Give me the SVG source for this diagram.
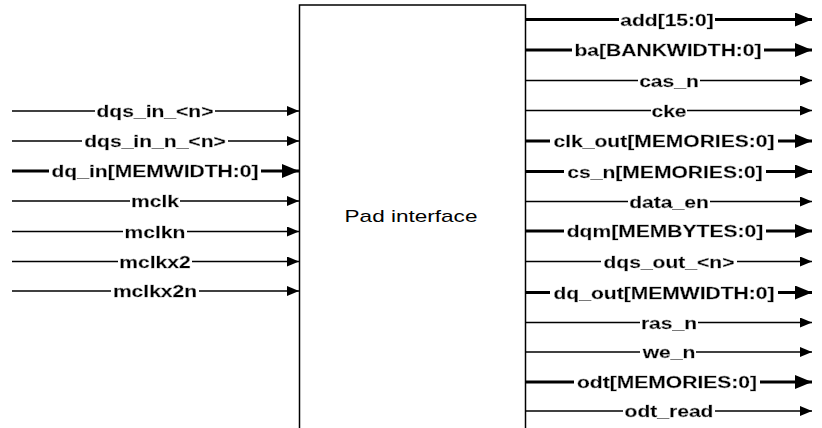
<svg xmlns="http://www.w3.org/2000/svg" width="822" height="428" viewBox="0 0 822 428">
  <defs>
    <style>
      .wire { stroke: #000; fill: none; }
      .thin { stroke-width: 1.3; }
      .bus { stroke-width: 3.2; }
      .lbl { font-family: "Liberation Sans", Arial, sans-serif; font-weight: bold; font-size: 17px; text-anchor: middle; fill: #000; stroke: #000; stroke-width: 0.35; filter: url(#knockout); }
      .title { font-family: "Liberation Sans", Arial, sans-serif; font-size: 16px; text-anchor: middle; fill: #000; }
    </style>
    <!-- white backing box behind each signal name so the wire stops at the text -->
    <filter id="knockout" x="-0.012" y="0" width="1.024" height="1">
      <feFlood flood-color="#fff"/>
      <feComposite in="SourceGraphic"/>
    </filter>
    <marker id="ah" markerUnits="userSpaceOnUse" markerWidth="14" markerHeight="12" refX="12" refY="5" orient="auto">
      <path d="M0,0 L12,5 L0,10 Z" fill="#000"/>
    </marker>
    <marker id="ahb" markerUnits="userSpaceOnUse" markerWidth="18" markerHeight="16" refX="17" refY="7" orient="auto">
      <path d="M0,0 L17,7 L0,14 Z" fill="#000"/>
    </marker>
  </defs>

  <rect width="822" height="428" fill="#fff"/>

  <!-- main block -->
  <g id="pad_interface">
    <rect x="299.5" y="5" width="226" height="440" fill="#fff" stroke="#000" stroke-width="1.5"/>
    <text class="title" transform="matrix(1.41,0,0,1,411,222)">Pad interface</text>
  </g>

  <!-- connectors -->
  <g id="connectors">
    <!-- inputs -->
    <line class="wire thin" x1="12" y1="111" x2="299" y2="111" marker-end="url(#ah)"/>
    <line class="wire thin" x1="12" y1="141" x2="299" y2="141" marker-end="url(#ah)"/>
    <line class="wire bus" x1="12" y1="171" x2="299" y2="171" marker-end="url(#ahb)"/>
    <line class="wire thin" x1="12" y1="201" x2="299" y2="201" marker-end="url(#ah)"/>
    <line class="wire thin" x1="12" y1="231.5" x2="299" y2="231.5" marker-end="url(#ah)"/>
    <line class="wire thin" x1="12" y1="261.5" x2="299" y2="261.5" marker-end="url(#ah)"/>
    <line class="wire thin" x1="12" y1="291" x2="299" y2="291" marker-end="url(#ah)"/>
    <!-- outputs -->
    <line class="wire bus" x1="526" y1="19.5" x2="812" y2="19.5" marker-end="url(#ahb)"/>
    <line class="wire bus" x1="526" y1="50" x2="812" y2="50" marker-end="url(#ahb)"/>
    <line class="wire thin" x1="526" y1="80.5" x2="812" y2="80.5" marker-end="url(#ah)"/>
    <line class="wire thin" x1="526" y1="110.5" x2="812" y2="110.5" marker-end="url(#ah)"/>
    <line class="wire bus" x1="526" y1="141" x2="812" y2="141" marker-end="url(#ahb)"/>
    <line class="wire bus" x1="526" y1="171.5" x2="812" y2="171.5" marker-end="url(#ahb)"/>
    <line class="wire thin" x1="526" y1="201.5" x2="812" y2="201.5" marker-end="url(#ah)"/>
    <line class="wire bus" x1="526" y1="231" x2="812" y2="231" marker-end="url(#ahb)"/>
    <line class="wire thin" x1="526" y1="261.5" x2="812" y2="261.5" marker-end="url(#ah)"/>
    <line class="wire bus" x1="526" y1="292.5" x2="812" y2="292.5" marker-end="url(#ahb)"/>
    <line class="wire thin" x1="526" y1="322.5" x2="812" y2="322.5" marker-end="url(#ah)"/>
    <line class="wire thin" x1="526" y1="352" x2="812" y2="352" marker-end="url(#ah)"/>
    <line class="wire bus" x1="526" y1="382" x2="812" y2="382" marker-end="url(#ahb)"/>
    <line class="wire thin" x1="526" y1="411" x2="812" y2="411" marker-end="url(#ah)"/>
  </g>

  <!-- signal names -->
  <g id="input_labels">
    <text class="lbl" transform="matrix(1.24,0,0,1,155,117)">dqs_in_&lt;n&gt;</text>
    <text class="lbl" transform="matrix(1.24,0,0,1,155,147)">dqs_in_n_&lt;n&gt;</text>
    <text class="lbl" transform="matrix(1.24,0,0,1,155,177)">dq_in[MEMWIDTH:0]</text>
    <text class="lbl" transform="matrix(1.24,0,0,1,155,207)">mclk</text>
    <text class="lbl" transform="matrix(1.24,0,0,1,155,237.5)">mclkn</text>
    <text class="lbl" transform="matrix(1.24,0,0,1,155,267.5)">mclkx2</text>
    <text class="lbl" transform="matrix(1.24,0,0,1,155,297)">mclkx2n</text>
  </g>
  <g id="output_labels">
    <text class="lbl" transform="matrix(1.24,0,0,1,667,25.5)">add[15:0]</text>
    <text class="lbl" transform="matrix(1.24,0,0,1,668,56)">ba[BANKWIDTH:0]</text>
    <text class="lbl" transform="matrix(1.24,0,0,1,669,86.5)">cas_n</text>
    <text class="lbl" transform="matrix(1.24,0,0,1,669,116.5)">cke</text>
    <text class="lbl" transform="matrix(1.24,0,0,1,664,147)">clk_out[MEMORIES:0]</text>
    <text class="lbl" transform="matrix(1.24,0,0,1,665,177.5)">cs_n[MEMORIES:0]</text>
    <text class="lbl" transform="matrix(1.24,0,0,1,669,207.5)">data_en</text>
    <text class="lbl" transform="matrix(1.24,0,0,1,665,237)">dqm[MEMBYTES:0]</text>
    <text class="lbl" transform="matrix(1.24,0,0,1,669,267.5)">dqs_out_&lt;n&gt;</text>
    <text class="lbl" transform="matrix(1.24,0,0,1,664,298.5)">dq_out[MEMWIDTH:0]</text>
    <text class="lbl" transform="matrix(1.24,0,0,1,669,328.5)">ras_n</text>
    <text class="lbl" transform="matrix(1.24,0,0,1,669,358)">we_n</text>
    <text class="lbl" transform="matrix(1.24,0,0,1,667,388)">odt[MEMORIES:0]</text>
    <text class="lbl" transform="matrix(1.24,0,0,1,669,417)">odt_read</text>
  </g>
</svg>
